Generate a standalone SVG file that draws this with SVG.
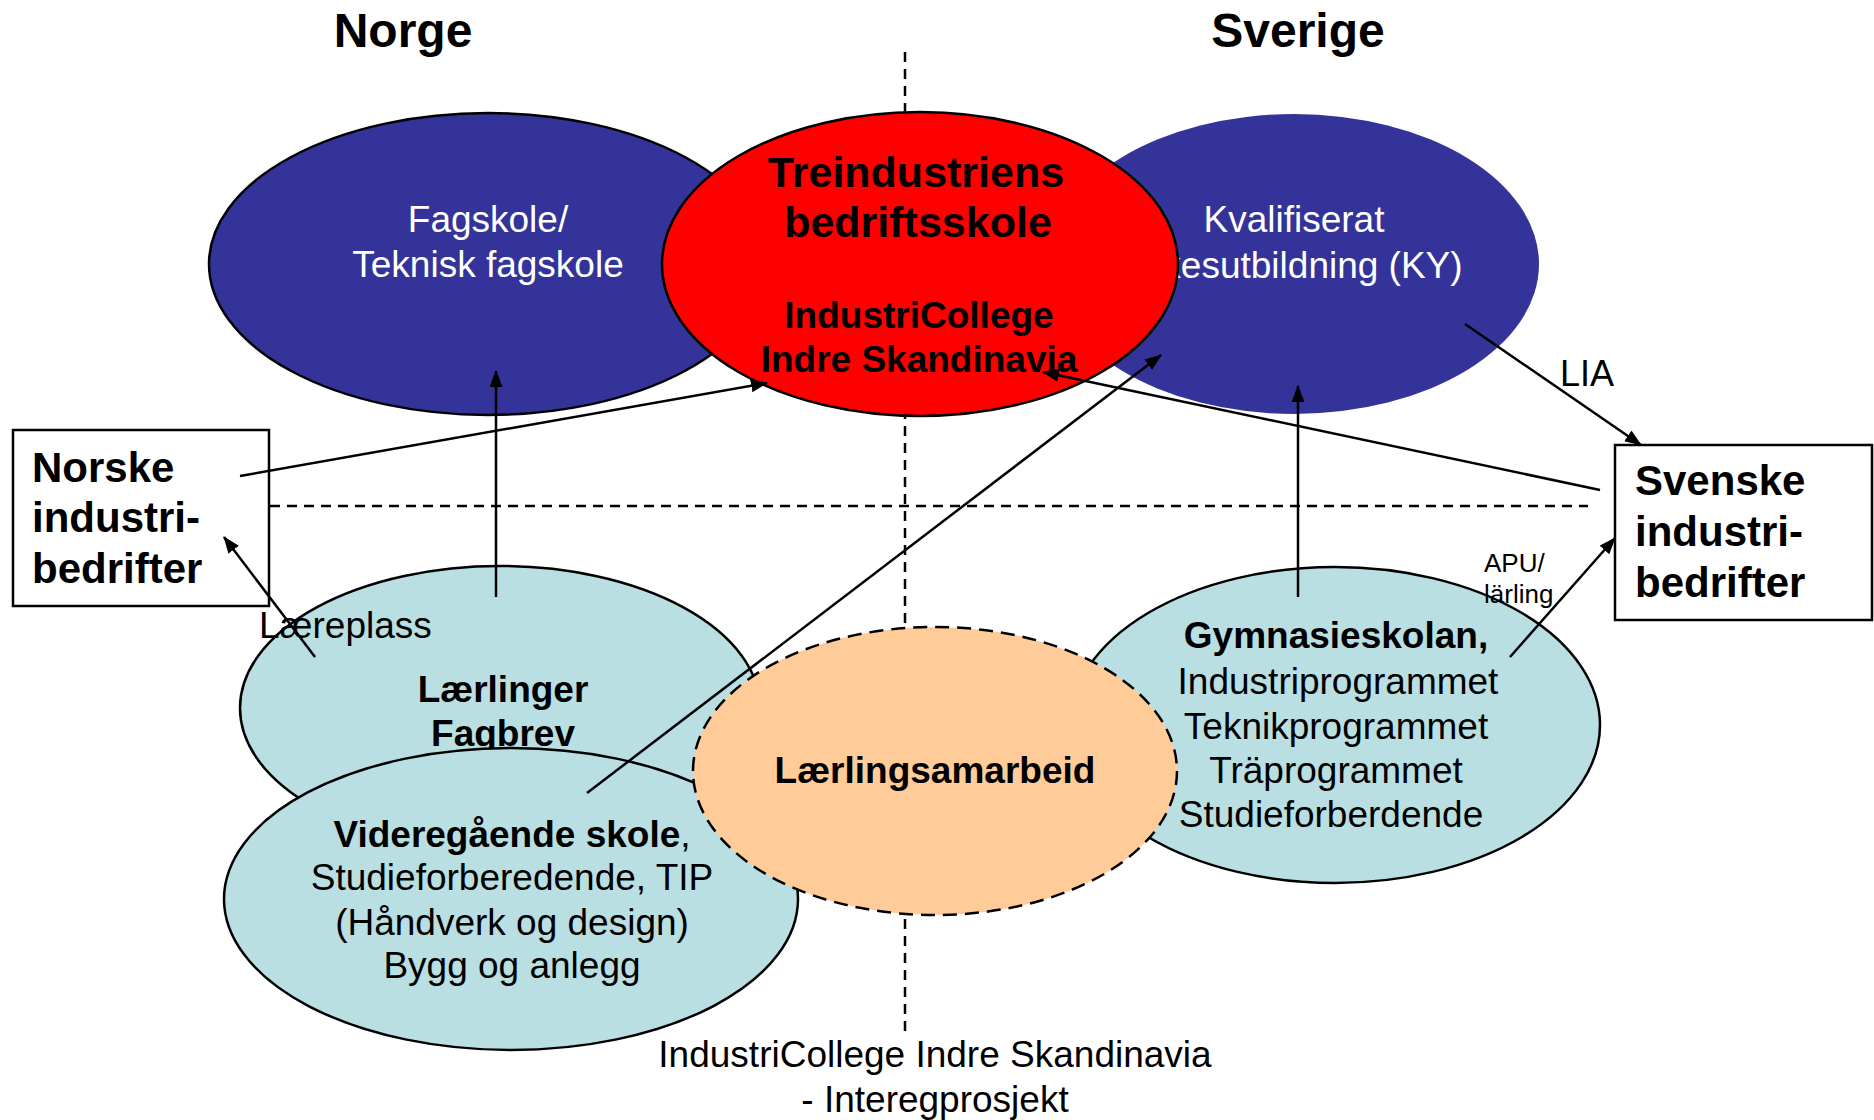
<svg xmlns="http://www.w3.org/2000/svg" width="1874" height="1120" viewBox="0 0 1874 1120">
<style>
text { font-family: "Liberation Sans", Arial, sans-serif; fill: #000; }
.c { text-anchor: middle; }
.b { font-weight: bold; }
.w { fill: #fff; }
.f37 { font-size: 37px; }
.f42 { font-size: 42px; }
.dash { stroke: #000; stroke-width: 2.5; stroke-dasharray: 10 7; fill: none; }
.ln { stroke: #000; stroke-width: 2.5; fill: none; marker-end: url(#ah); }
.lb { fill: #b9dfe3; stroke: #000; stroke-width: 2.5; }
.box { fill: #fff; stroke: #000; stroke-width: 2.5; }
</style>
<defs>
<marker id="ah" markerUnits="userSpaceOnUse" markerWidth="17" markerHeight="13" refX="16" refY="6.5" orient="auto">
<path d="M0,0 L17,6.5 L0,13 z" fill="#000"/>
</marker>
</defs>
<rect width="1874" height="1120" fill="#fff"/>
<g id="dividers">
<line class="dash" x1="905" y1="52" x2="905" y2="1033"/>
<line class="dash" x1="270" y1="506" x2="1588" y2="506"/>
</g>
<g id="headings">
<text class="c b" x="403" y="47" font-size="48">Norge</text>
<text class="c b" x="1298" y="47" font-size="48">Sverige</text>
</g>
<g id="fagskole">
<ellipse cx="488" cy="264" rx="279" ry="151" fill="#333399" stroke="#000" stroke-width="2.5"/>
<text class="c w f37" x="488" y="232">Fagskole/</text>
<text class="c w f37" x="488" y="277">Teknisk fagskole</text>
</g>
<g id="ky">
<ellipse cx="1294" cy="264" rx="245" ry="150" fill="#333399"/>
<text class="c w f37" x="1294" y="232">Kvalifiserat</text>
<text class="c w f37" x="1294" y="278">Yrkesutbildning (KY)</text>
</g>
<g id="bedriftsskole">
<ellipse cx="920" cy="264" rx="258" ry="152" fill="#ff0000" stroke="#000" stroke-width="2.5"/>
<text class="c b" x="916" y="187" font-size="43">Treindustriens</text>
<text class="c b" x="918" y="237" font-size="43">bedriftsskole</text>
<text class="c b f37" x="919" y="328">IndustriCollege</text>
<text class="c b f37" x="919" y="372">Indre Skandinavia</text>
</g>
<g id="laerlinger">
<ellipse class="lb" cx="500" cy="708" rx="260" ry="142"/>
<text class="c b f37" x="503" y="702">Lærlinger</text>
<text class="c b f37" x="503" y="746">Fagbrev</text>
</g>
<g id="videregaende">
<ellipse class="lb" cx="511" cy="899" rx="287" ry="151"/>
<text class="c f37" x="512" y="847"><tspan class="b">Videregående skole</tspan>,</text>
<text class="c f37" x="512" y="890">Studieforberedende, TIP</text>
<text class="c f37" x="512" y="935">(Håndverk og design)</text>
<text class="c f37" x="512" y="978">Bygg og anlegg</text>
</g>
<g id="gymnasieskolan">
<ellipse class="lb" cx="1335" cy="725" rx="265" ry="158"/>
<text class="c b f37" x="1336" y="648">Gymnasieskolan,</text>
<text class="c f37" x="1338" y="694">Industriprogrammet</text>
<text class="c f37" x="1336" y="739">Teknikprogrammet</text>
<text class="c f37" x="1336" y="783">Träprogrammet</text>
<text class="c f37" x="1331" y="827">Studieforberdende</text>
</g>
<g id="laerlingsamarbeid">
<ellipse cx="935" cy="771" rx="242" ry="144" fill="#ffcc99" stroke="#000" stroke-width="2.5" stroke-dasharray="14 8"/>
<text class="c b f37" x="935" y="783">Lærlingsamarbeid</text>
</g>
<g id="norske">
<rect class="box" x="13" y="430" width="256" height="176"/>
<text class="b f42" x="32" y="482">Norske</text>
<text class="b f42" x="32" y="532">industri-</text>
<text class="b f42" x="32" y="583">bedrifter</text>
</g>
<g id="svenske">
<rect class="box" x="1615" y="445" width="257" height="175"/>
<text class="b f42" x="1635" y="495">Svenske</text>
<text class="b f42" x="1635" y="546">industri-</text>
<text class="b f42" x="1635" y="597">bedrifter</text>
</g>
<g id="connectors">
<line class="ln" x1="240" y1="476" x2="767" y2="383"/>
<line class="ln" x1="496" y1="597" x2="496" y2="371"/>
<line class="ln" x1="315" y1="657" x2="224" y2="537"/>
<line class="ln" x1="587" y1="793" x2="1161" y2="355"/>
<line class="ln" x1="1600" y1="490" x2="1043" y2="372"/>
<line class="ln" x1="1298" y1="597" x2="1298" y2="386"/>
<line class="ln" x1="1465" y1="324" x2="1641" y2="445"/>
<line class="ln" x1="1510" y1="657" x2="1615" y2="538"/>
<text class="f37" x="259" y="638">Læreplass</text>
<text x="1560" y="386" font-size="36">LIA</text>
<text x="1484" y="572" font-size="26">APU/</text>
<text x="1484" y="603" font-size="26">lärling</text>
</g>
<g id="footer">
<text class="c f37" x="935" y="1067">IndustriCollege Indre Skandinavia</text>
<text class="c f37" x="935" y="1112">- Interegprosjekt</text>
</g>
</svg>
